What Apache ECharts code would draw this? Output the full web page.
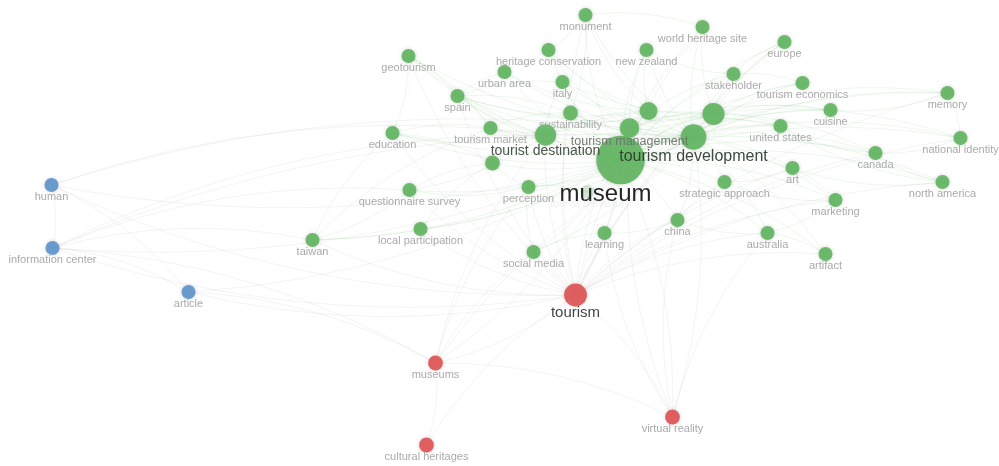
<!DOCTYPE html>
<html>
<head>
<meta charset="utf-8">
<script src="https://cdn.jsdelivr.net/npm/echarts@6/dist/echarts.min.js"></script>
<style>html,body{margin:0;padding:0;background:#fff}#c{width:999px;height:466px}</style>
</head>
<body>
<div id="c"></div>
<script>
// ---- data ----
const nodeNames = ["museum","tourism development","tourist destination","tourism management","cultural tourism","heritage tourism","visitor experience",
"monument","world heritage site","europe","heritage conservation","new zealand","geotourism","urban area","stakeholder","tourism economics","italy","memory","spain","sustainability","tourism market","cuisine","united states","national identity","canada","art","north america","strategic approach","marketing","education","questionnaire survey","perception","tourist behavior","local participation","taiwan","learning","china","australia","artifact","social media",
"human","information center","article",
"tourism","museums","cultural heritages","virtual reality"];
const nodeX = [1.21,1.94,0.46,1.30,2.14,1.49,-0.07,
0.86,2.03,2.85,0.49,1.47,-0.91,0.05,2.34,3.03,0.63,4.48,-0.42,0.71,-0.09,3.31,2.81,4.61,3.76,2.93,4.43,2.25,3.36,-1.07,-0.90,0.29,0.88,-0.79,-1.87,1.05,1.78,2.68,3.26,0.34,
-4.48,-4.47,-3.11,
0.76,-0.64,-0.73,1.73];
const nodeY = [0.73,0.96,0.98,1.05,1.19,1.22,0.70,
2.18,2.06,1.91,1.83,1.83,1.77,1.61,1.59,1.50,1.51,1.40,1.37,1.20,1.05,1.23,1.07,0.95,0.80,0.65,0.51,0.51,0.33,1.00,0.43,0.46,0.41,0.04,-0.07,0.00,0.13,0.00,-0.21,-0.19,
0.48,-0.15,-0.59,
-0.62,-1.30,-2.12,-1.84];
const occurrences = [140,30,18,14,20,11,6,
5,5,5,5,5,5,5,5,5,5,5,5,6,5,5,5,5,5,5,5,5,5,5,5,5,5,5,5,5,5,5,5,5,
5,5,5,
22,6,6,6];
const clusterOf = [1,1,1,1,1,1,1,
1,1,1,1,1,1,1,1,1,1,1,1,1,1,1,1,1,1,1,1,1,1,1,1,1,1,1,1,1,1,1,1,1,
3,3,3,
2,2,2,2];
const hiddenLabels = ["cultural tourism","heritage tourism","visitor experience"];

const museumLinks = ["tourism development","tourist destination","tourism management","cultural tourism","heritage tourism","visitor experience","monument","world heritage site","europe","heritage conservation","new zealand","geotourism","urban area","stakeholder","tourism economics","italy","memory","spain","sustainability","tourism market","cuisine","united states","national identity","canada","art","north america","strategic approach","marketing","education","questionnaire survey","perception","tourist behavior","local participation","taiwan","learning","china","australia","artifact","social media","tourism","museums","virtual reality","information center","human","article"];
const tourismLinks = ["tourism development","tourist destination","tourism management","cultural tourism","memory","national identity","north america","artifact","australia","marketing","china","learning","social media","perception","questionnaire survey","taiwan","local participation","education","geotourism","spain","museums","virtual reality","article","information center","human","canada","art","world heritage site","monument","europe","sustainability"];
const devLinks = ["tourist destination","tourism management","cultural tourism","heritage tourism","monument","world heritage site","europe","new zealand","stakeholder","tourism economics","italy","memory","spain","sustainability","tourism market","cuisine","united states","national identity","canada","art","north america","strategic approach","marketing","education","perception","china","australia","artifact","social media","virtual reality","taiwan","geotourism","urban area","heritage conservation"];
const otherLinks = [
["tourist destination","tourism market"],["tourist destination","spain"],["tourist destination","italy"],["tourist destination","sustainability"],["tourist destination","cultural tourism"],["tourist destination","heritage tourism"],["tourist destination","united states"],["tourist destination","questionnaire survey"],["tourist destination","education"],["tourist destination","geotourism"],
["tourism management","stakeholder"],["tourism management","sustainability"],["tourism management","new zealand"],["tourism management","cultural tourism"],["tourism management","heritage conservation"],["tourism management","cuisine"],["tourism management","united states"],
["cultural tourism","stakeholder"],["cultural tourism","tourism economics"],["cultural tourism","cuisine"],["cultural tourism","united states"],["cultural tourism","memory"],["cultural tourism","national identity"],["cultural tourism","spain"],["cultural tourism","world heritage site"],["cultural tourism","europe"],["cultural tourism","canada"],["cultural tourism","italy"],["cultural tourism","tourism market"],
["heritage tourism","heritage conservation"],["heritage tourism","monument"],["heritage tourism","new zealand"],["heritage tourism","spain"],["heritage tourism","urban area"],
["stakeholder","tourism economics"],["stakeholder","new zealand"],["stakeholder","europe"],
["monument","heritage conservation"],["monument","world heritage site"],["monument","sustainability"],
["geotourism","spain"],["geotourism","education"],["geotourism","tourism market"],
["spain","urban area"],["spain","italy"],["spain","tourism market"],["spain","sustainability"],
["memory","cuisine"],["memory","national identity"],["national identity","canada"],["north america","canada"],["north america","united states"],["north america","art"],
["canada","united states"],["art","marketing"],["art","strategic approach"],["marketing","strategic approach"],["marketing","australia"],["australia","artifact"],["australia","china"],["china","learning"],["china","strategic approach"],
["perception","questionnaire survey"],["perception","tourist behavior"],["perception","visitor experience"],["questionnaire survey","taiwan"],["questionnaire survey","visitor experience"],["local participation","visitor experience"],["taiwan","tourism market"],["taiwan","education"],["social media","learning"],["social media","perception"],
["education","tourism market"],["education","visitor experience"],["tourism market","sustainability"],["visitor experience","tourist destination"],
["human","information center"],["human","article"],["information center","article"],["information center","tourism development"],["information center","tourist destination"],["human","tourism development"],["article","museums"],["information center","museums"],["information center","questionnaire survey"],["information center","taiwan"],["human","tourist destination"],
["museums","cultural heritages"],["museums","virtual reality"],["museums","tourism development"],["museums","tourist destination"],["museums","perception"],["museums","social media"],["cultural heritages","tourism"],
["virtual reality","china"],["virtual reality","learning"],["virtual reality","australia"],["virtual reality","tourism management"]
];

// ---- build ----
const colors = {1:'#62b562',2:'#df5455',3:'#5e96cb'};
const big = {
  "museum": {fontSize:24,color:'#111',padding:[0,30,0,0],distance:-2},
  "tourism development": {fontSize:16,color:'#2e3a2e',distance:-1},
  "tourist destination": {fontSize:14,color:'#3c463c',distance:-1},
  "tourism management": {fontSize:12.5,color:'#6a716a',distance:-3},
  "tourism": {fontSize:15,color:'#333',distance:-1}
};
const nodes = nodeNames.map((n,i)=>{
  const c = colors[clusterOf[i]];
  const item = {
    name:n, value:[nodeX[i],nodeY[i]],
    symbolSize: 6 + 3.6*Math.sqrt(occurrences[i]),
    itemStyle:{color:c, opacity: n==='tourist behavior'?0.25:0.92, shadowBlur:4, shadowColor:'rgba(0,0,0,0.18)'},
    label:{show: hiddenLabels.indexOf(n)<0}
  };
  if (n==='tourist behavior') item.label.color = '#c4c4c4';
  if (big[n]) Object.assign(item.label, big[n]);
  return item;
});
const idx = {}; nodeNames.forEach((n,i)=>idx[n]=i);
const pairs = [];
museumLinks.forEach(t=>pairs.push(["museum",t]));
tourismLinks.forEach(t=>pairs.push(["tourism",t]));
devLinks.forEach(t=>pairs.push(["tourism development",t]));
otherLinks.forEach(p=>pairs.push(p));
const links = pairs.map(([s,t])=>{
  const g = clusterOf[idx[s]]===1 && clusterOf[idx[t]]===1;
  return {source:s,target:t,lineStyle:{color: g ? 'rgba(110,190,110,0.3)' : 'rgba(175,175,175,0.32)', width: g?0.8:0.9}};
});

const chart = echarts.init(document.getElementById('c'));
chart.setOption({
  backgroundColor:'#fff',
  animation:false,
  grid:{left:0,right:0,top:0,bottom:0},
  xAxis:{type:'value',min:-4.995,max:4.995,show:false},
  yAxis:{type:'value',min:-2.33,max:2.33,show:false},
  series:[{
    type:'graph',
    coordinateSystem:'cartesian2d',
    data:nodes,
    links:links,
    edgeSymbol:['none','none'],
    lineStyle:{curveness:0.12},
    label:{position:'bottom',distance:-1,fontSize:11,color:'#a3a3a3',fontFamily:'Liberation Sans, Arial, sans-serif'},
    labelLayout:{hideOverlap:false}
  }]
});
</script>
</body>
</html>
